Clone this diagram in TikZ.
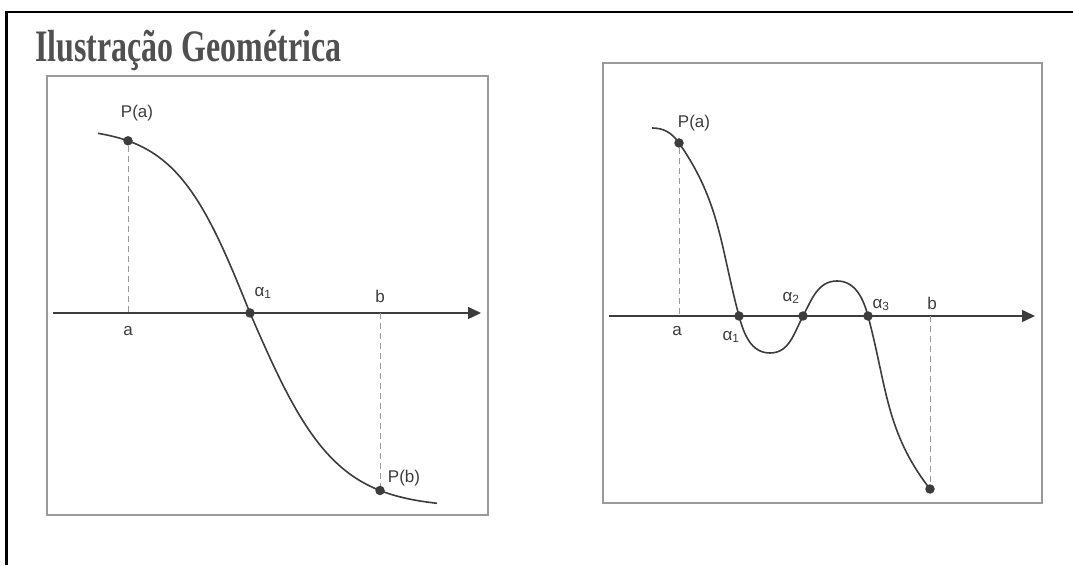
\documentclass[tikz,border=0pt]{standalone}
\usepackage{fontspec}
\setmainfont{Liberation Sans}
\newfontfamily\titlefont{Liberation Serif}
\usetikzlibrary{arrows.meta}
\definecolor{ink}{HTML}{3C3C3C}
\definecolor{boxgray}{HTML}{9A9A9A}
\definecolor{titlegray}{HTML}{505050}
\tikzset{
  frameline/.style={line width=2.4pt, black},
  boxline/.style={line width=1.5pt, boxgray},
  axisline/.style={line width=1.5pt, ink, -{Triangle[length=13pt,width=12pt]}},
  curveline/.style={line width=1.6pt, ink},
  dropline/.style={line width=0.8pt, boxgray, dash pattern=on 6pt off 4pt},
  dot/.style={circle, fill=ink, inner sep=0pt, minimum size=9.5pt},
  lbl/.style={text=ink, font=\fontsize{17}{19}\selectfont, inner sep=0pt},
}
\begin{document}
\begin{tikzpicture}[x=1pt,y=1pt]
\useasboundingbox (0,0) rectangle (1073,565);
% outer frame (top and left only)
\draw[frameline] (6.5,0) -- (6.5,553) -- (1073,553);
% title
\node[anchor=base west, inner sep=0pt, text=titlegray, xscale=0.71] (title) at (35,503)
  {\titlefont\bfseries\fontsize{45}{50}\selectfont Ilustração Geométrica};

% ---------- left panel ----------
\draw[boxline] (47,50) rectangle (488,489);
\coordinate (LaxL) at (53,252);
\coordinate (LaxR) at (481,252);
\draw[axisline] (LaxL) -- (LaxR);
\draw[curveline] plot[domain=98:250, samples=60, smooth] (\x, {252+186*tanh((250-\x)/75)});
\draw[curveline] plot[domain=250:437, samples=60, smooth] (\x, {252-195*tanh((\x-250)/85)});
\node[dot] (LPa) at (128,424.2) {};
\node[dot] (Lal1) at (250,252) {};
\node[dot] (LPb) at (380,74.5) {};
\coordinate (La) at (128,252);
\coordinate (Lb) at (380,252);
\draw[dropline] (LPa) -- (La);
\draw[dropline] (Lb) -- (LPb);
\node[lbl] (LPalbl) at (137,452) {P(a)};
\node[lbl] (Lalbl) at (128,234) {a};
\node[lbl] (Lal1lbl) at (263,272) {α\textsubscript{1}};
\node[lbl] (Lblbl) at (380,269) {b};
\node[lbl] (LPblbl) at (404,87) {P(b)};

% ---------- right panel ----------
\draw[boxline] (603,62) rectangle (1042,502);
\coordinate (RaxL) at (609,249);
\coordinate (RaxR) at (1035,249);
\draw[axisline] (RaxL) -- (RaxR);
\coordinate (Rstart) at (652,437);
\node[dot] (RPa) at (679,422) {};
\node[dot] (Ral1) at (739,249) {};
\coordinate (Rmin) at (770,212);
\node[dot] (Ral2) at (803,249) {};
\coordinate (Rmax) at (837,284);
\node[dot] (Ral3) at (868,249) {};
\node[dot] (RPb) at (930,76) {};
\draw[curveline] (Rstart) to[out=0,in=125] (RPa.center)
  to[out=-55,in=105] (Ral1.center)
  to[out=-75,in=180] (Rmin)
  to[out=0,in=-118] (Ral2.center)
  to[out=62,in=180] (Rmax)
  to[out=0,in=105] (Ral3.center)
  to[out=-75,in=128] (RPb.center);
\coordinate (Ra) at (679,249);
\coordinate (Rb) at (930,249);
\draw[dropline] (RPa) -- (Ra);
\draw[dropline] (Rb) -- (RPb);
\node[lbl] (RPalbl) at (694,442) {P(a)};
\node[lbl] (Ralbl) at (677,234) {a};
\node[lbl] (Ral1lbl) at (731,228) {α\textsubscript{1}};
\node[lbl] (Ral2lbl) at (791,267) {α\textsubscript{2}};
\node[lbl] (Ral3lbl) at (881,260) {α\textsubscript{3}};
\node[lbl] (Rblbl) at (932,262) {b};
\end{tikzpicture}
\end{document}
